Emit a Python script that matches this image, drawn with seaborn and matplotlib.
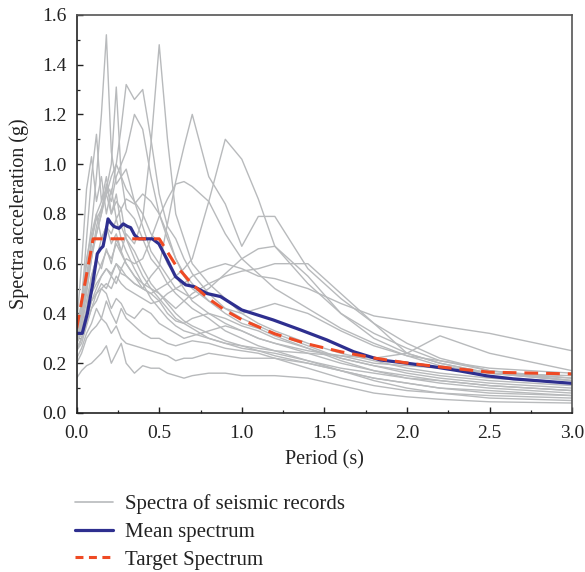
import numpy as np
import pandas as pd
import matplotlib
matplotlib.use("Agg")
import matplotlib.pyplot as plt
from matplotlib.lines import Line2D
from matplotlib.ticker import MultipleLocator, FormatStrFormatter
import seaborn as sns

# ---------------- data ----------------
periods = [0.00, 0.03, 0.06, 0.09, 0.12, 0.15, 0.18, 0.21, 0.24, 0.27, 0.30, 0.35,
           0.40, 0.45, 0.50, 0.55, 0.60, 0.65, 0.70, 0.80, 0.90, 1.00, 1.10, 1.20,
           1.40, 1.60, 1.80, 2.00, 2.20, 2.50, 3.00]

rec01 = [0.30, 0.42, 0.60, 0.75, 0.95, 1.20, 1.52, 1.05, 0.92, 0.95, 0.82, 0.78, 0.70, 0.62, 0.58, 0.52,
         0.48, 0.45, 0.42, 0.38, 0.33, 0.30, 0.27, 0.25, 0.21, 0.17, 0.14, 0.12, 0.10, 0.09, 0.07]
rec02 = [0.28, 0.33, 0.42, 0.55, 0.62, 0.58, 0.66, 0.60, 0.70, 0.65, 0.72, 0.68, 0.78, 1.08, 1.48, 1.10,
         0.80, 0.70, 0.60, 0.52, 0.46, 0.40, 0.36, 0.33, 0.28, 0.24, 0.21, 0.18, 0.16, 0.14, 0.12]
rec03 = [0.25, 0.30, 0.38, 0.45, 0.48, 0.52, 0.50, 0.55, 0.52, 0.58, 0.55, 0.52, 0.50, 0.55, 0.59, 0.76,
         0.93, 1.07, 1.20, 0.95, 0.84, 0.67, 0.79, 0.79, 0.58, 0.46, 0.36, 0.28, 0.22, 0.17, 0.13]
rec04 = [0.30, 0.34, 0.40, 0.48, 0.52, 0.55, 0.58, 0.55, 0.60, 0.56, 0.55, 0.52, 0.50, 0.48, 0.50, 0.52,
         0.55, 0.58, 0.62, 0.85, 1.10, 1.02, 0.86, 0.67, 0.52, 0.40, 0.32, 0.26, 0.21, 0.17, 0.14]
rec05 = [0.32, 0.40, 0.52, 0.65, 0.72, 0.80, 0.88, 0.95, 1.00, 1.15, 1.32, 1.26, 1.30, 1.10, 0.88, 0.75,
         0.70, 0.62, 0.56, 0.48, 0.42, 0.38, 0.35, 0.32, 0.27, 0.22, 0.19, 0.16, 0.14, 0.12, 0.10]
rec06 = [0.28, 0.38, 0.50, 0.68, 0.80, 0.85, 0.90, 1.00, 1.31, 0.95, 0.90, 0.85, 0.80, 0.72, 0.68, 0.60,
         0.55, 0.50, 0.45, 0.40, 0.36, 0.33, 0.30, 0.28, 0.24, 0.20, 0.17, 0.14, 0.12, 0.10, 0.08]
rec07 = [0.30, 0.36, 0.48, 0.62, 0.75, 0.82, 0.90, 0.85, 0.95, 1.00, 1.05, 1.20, 1.14, 0.95, 0.80, 0.70,
         0.62, 0.56, 0.52, 0.45, 0.40, 0.36, 0.34, 0.31, 0.26, 0.22, 0.19, 0.17, 0.15, 0.13, 0.11]
rec08 = [0.26, 0.30, 0.38, 0.45, 0.50, 0.55, 0.58, 0.56, 0.60, 0.58, 0.62, 0.60, 0.62, 0.70, 0.79, 0.86,
         0.92, 0.93, 0.91, 0.85, 0.72, 0.62, 0.56, 0.50, 0.42, 0.34, 0.28, 0.23, 0.19, 0.16, 0.13]
rec09 = [0.30, 0.45, 0.70, 0.95, 1.12, 0.85, 0.95, 0.80, 0.88, 0.75, 0.70, 0.62, 0.55, 0.50, 0.46, 0.42,
         0.38, 0.36, 0.34, 0.30, 0.28, 0.26, 0.25, 0.23, 0.20, 0.17, 0.14, 0.12, 0.10, 0.08, 0.07]
rec10 = [0.35, 0.60, 0.90, 1.03, 0.85, 0.95, 0.80, 0.90, 0.78, 0.82, 0.70, 0.65, 0.58, 0.52, 0.48, 0.44,
         0.40, 0.37, 0.35, 0.32, 0.29, 0.27, 0.25, 0.24, 0.21, 0.18, 0.16, 0.14, 0.13, 0.11, 0.09]
rec11 = [0.28, 0.32, 0.40, 0.48, 0.55, 0.60, 0.65, 0.62, 0.68, 0.64, 0.60, 0.55, 0.52, 0.50, 0.48, 0.45,
         0.42, 0.45, 0.48, 0.52, 0.55, 0.57, 0.58, 0.60, 0.60, 0.48, 0.36, 0.24, 0.20, 0.16, 0.13]
rec12 = [0.25, 0.30, 0.36, 0.42, 0.48, 0.50, 0.52, 0.50, 0.55, 0.52, 0.50, 0.48, 0.46, 0.44, 0.45, 0.48,
         0.50, 0.52, 0.55, 0.58, 0.60, 0.58, 0.55, 0.54, 0.50, 0.44, 0.39, 0.37, 0.35, 0.32, 0.25]
rec13 = [0.30, 0.35, 0.45, 0.55, 0.62, 0.70, 0.75, 0.72, 0.78, 0.70, 0.65, 0.58, 0.52, 0.46, 0.42, 0.38,
         0.35, 0.33, 0.32, 0.30, 0.28, 0.27, 0.26, 0.25, 0.24, 0.23, 0.22, 0.24, 0.31, 0.24, 0.17]
rec14 = [0.14, 0.17, 0.19, 0.20, 0.22, 0.24, 0.27, 0.20, 0.24, 0.28, 0.20, 0.16, 0.19, 0.18, 0.18, 0.16,
         0.15, 0.14, 0.15, 0.16, 0.16, 0.15, 0.15, 0.15, 0.14, 0.11, 0.08, 0.065, 0.055, 0.045, 0.04]
rec15 = [0.20, 0.24, 0.30, 0.33, 0.35, 0.38, 0.36, 0.32, 0.35, 0.30, 0.28, 0.27, 0.26, 0.25, 0.24, 0.23,
         0.21, 0.22, 0.22, 0.24, 0.23, 0.22, 0.22, 0.22, 0.20, 0.17, 0.13, 0.10, 0.08, 0.06, 0.05]
rec16 = [0.25, 0.28, 0.35, 0.42, 0.45, 0.50, 0.48, 0.42, 0.46, 0.44, 0.40, 0.38, 0.42, 0.40, 0.36, 0.34,
         0.32, 0.30, 0.31, 0.33, 0.35, 0.33, 0.30, 0.28, 0.25, 0.23, 0.20, 0.19, 0.18, 0.16, 0.15]
rec17 = [0.32, 0.40, 0.55, 0.70, 0.78, 0.82, 0.88, 0.80, 0.85, 0.82, 0.86, 0.84, 0.88, 0.85, 0.80, 0.72,
         0.62, 0.55, 0.50, 0.45, 0.42, 0.40, 0.42, 0.44, 0.40, 0.33, 0.27, 0.23, 0.21, 0.18, 0.16]
rec18 = [0.30, 0.38, 0.50, 0.62, 0.72, 0.80, 0.92, 0.88, 1.00, 0.95, 0.98, 0.85, 0.75, 0.65, 0.60, 0.55,
         0.50, 0.48, 0.46, 0.50, 0.56, 0.62, 0.66, 0.67, 0.55, 0.40, 0.30, 0.24, 0.20, 0.16, 0.14]
rec19 = [0.22, 0.26, 0.32, 0.36, 0.42, 0.38, 0.45, 0.40, 0.36, 0.42, 0.38, 0.35, 0.32, 0.30, 0.30, 0.28,
         0.27, 0.28, 0.29, 0.28, 0.26, 0.25, 0.24, 0.22, 0.18, 0.14, 0.11, 0.09, 0.08, 0.07, 0.06]
rec20 = [0.33, 0.45, 0.62, 0.72, 0.80, 0.70, 0.75, 0.68, 0.72, 0.65, 0.60, 0.55, 0.50, 0.48, 0.45, 0.40,
         0.37, 0.36, 0.38, 0.40, 0.38, 0.35, 0.33, 0.30, 0.26, 0.21, 0.17, 0.15, 0.13, 0.11, 0.09]

records = [rec01, rec02, rec03, rec04, rec05, rec06, rec07, rec08, rec09, rec10,
           rec11, rec12, rec13, rec14, rec15, rec16, rec17, rec18, rec19, rec20]

mean_T = [0.00, 0.014, 0.034, 0.065, 0.095, 0.125, 0.145, 0.16, 0.175, 0.19, 0.205, 0.225, 0.256,
          0.282, 0.307, 0.327, 0.351, 0.377, 0.458, 0.498, 0.549, 0.599, 0.66, 0.71, 0.79, 0.871,
          1.00, 1.19, 1.355, 1.517, 1.678, 1.84, 2.00, 2.16, 2.32, 2.485, 2.646, 2.807, 3.00]
mean_Sa = [0.32, 0.32, 0.32, 0.40, 0.51, 0.64, 0.66, 0.67, 0.72, 0.78, 0.765, 0.75, 0.742,
           0.76, 0.75, 0.745, 0.715, 0.70, 0.70, 0.68, 0.615, 0.548, 0.515, 0.508, 0.48, 0.468,
           0.414, 0.374, 0.334, 0.293, 0.246, 0.213, 0.20, 0.186, 0.169, 0.149, 0.137, 0.129, 0.119]

target_T = [0.00, 0.10, 0.50, 0.60, 0.70, 0.80, 0.90, 1.00, 1.20, 1.40, 1.60, 1.80, 2.00,
            2.20, 2.50, 3.00]
target_Sa = [0.34, 0.70, 0.70, 0.594, 0.517, 0.459, 0.412, 0.375, 0.318, 0.277, 0.246, 0.221,
             0.201, 0.185, 0.164, 0.157]

legend_labels = ["Spectra of seismic records", "Mean spectrum", "Target Spectrum"]

# ---------------- style ----------------
sns.set_style("ticks")
plt.rcParams["font.family"] = ["Liberation Serif", "DejaVu Serif"]

GRAY = "#b8babc"
BLUE = "#2e2f8f"
RED = "#ef4a24"
INK = "#222222"

fig = plt.figure(figsize=(5.85, 5.72), dpi=100)
ax = fig.add_axes([0.131, 0.278, 0.847, 0.696])

rec_df = pd.DataFrame({
    "T": np.tile(periods, len(records)),
    "Sa": np.concatenate([np.asarray(r, dtype=float) for r in records]),
    "rec": np.repeat(np.arange(len(records)), len(periods)),
})
sns.lineplot(data=rec_df, x="T", y="Sa", units="rec", estimator=None,
             color=GRAY, lw=1.0, ax=ax, legend=False, sort=False)

sns.lineplot(x=mean_T, y=mean_Sa, color=BLUE, lw=2.3, ax=ax, sort=False,
             estimator=None, legend=False)
sns.lineplot(x=target_T, y=target_Sa, color=RED, lw=2.2, ax=ax, sort=False,
             estimator=None, legend=False)
ax.lines[-1].set_dashes((4.5, 2.6))

ax.set_xlim(0, 3.0)
ax.set_ylim(0, 1.6)
ax.xaxis.set_major_locator(MultipleLocator(0.5))
ax.xaxis.set_minor_locator(MultipleLocator(0.25))
ax.yaxis.set_major_locator(MultipleLocator(0.2))
ax.yaxis.set_minor_locator(MultipleLocator(0.1))
ax.xaxis.set_major_formatter(FormatStrFormatter("%.1f"))
ax.yaxis.set_major_formatter(FormatStrFormatter("%.1f"))
ax.tick_params(axis="both", which="major", direction="in", length=4.5, width=1.0,
               labelsize=14, top=False, right=False, colors=INK)
ax.tick_params(axis="x", which="major", pad=8.5)
ax.tick_params(axis="y", which="major", pad=7)
ax.tick_params(axis="both", which="minor", direction="in", length=2.5, width=0.9,
               top=False, right=False, colors=INK)
for s in ["left", "bottom"]:
    ax.spines[s].set_color(INK)
    ax.spines[s].set_linewidth(1.2)
for s in ["top", "right"]:
    ax.spines[s].set_visible(True)
    ax.spines[s].set_color("#555555")
    ax.spines[s].set_linewidth(1.2)

ax.set_xlabel("Period (s)", fontsize=14.5, color=INK, labelpad=6)
ax.set_ylabel("Spectra acceleration (g)", fontsize=14.5, color=INK, labelpad=10)

handles = [Line2D([], [], color=GRAY, lw=1.2),
           Line2D([], [], color=BLUE, lw=2.3),
           Line2D([], [], color=RED, lw=2.2, dashes=(2.6, 1.8))]
fig.legend(handles, legend_labels, loc="upper left", bbox_to_anchor=(0.129, 0.136),
           frameon=False, fontsize=15, handlelength=1.78, handletextpad=0.62,
           labelspacing=0.39, borderpad=0, borderaxespad=0, labelcolor=INK)

fig.savefig("out.png", dpi=100)
